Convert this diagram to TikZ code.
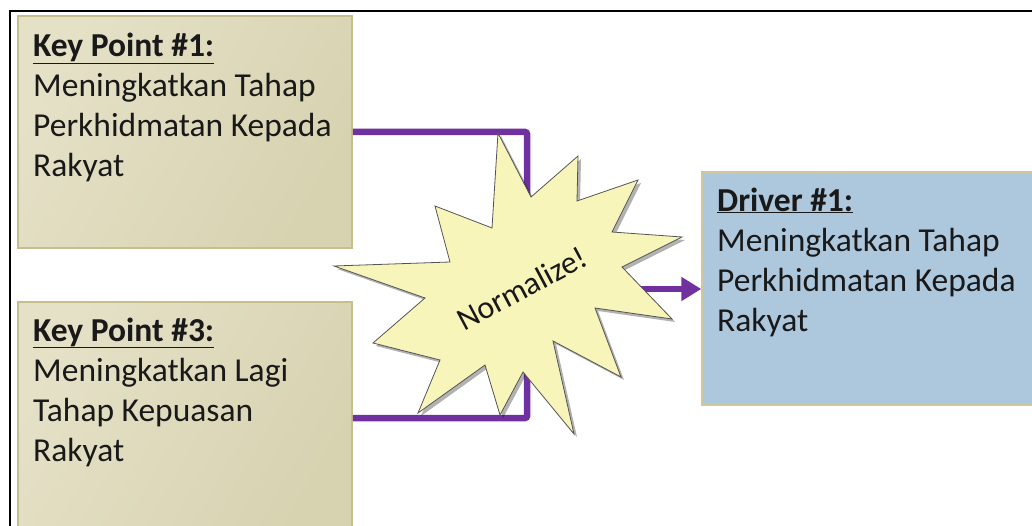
\documentclass[tikz,border=0pt]{standalone}
\usepackage{fontspec}
\setmainfont{Carlito}
\usetikzlibrary{arrows.meta,shadows}
\definecolor{tanlight}{HTML}{E5E1C7}
\definecolor{tandark}{HTML}{D7D2B0}
\definecolor{tanedge}{HTML}{C6BE8E}
\definecolor{drvfill}{HTML}{ADC7DD}
\definecolor{purp}{HTML}{7030A0}
\definecolor{starfill}{HTML}{F7F5BA}
\definecolor{staredge}{HTML}{555555}
\begin{document}
\begin{tikzpicture}[x=1pt,y=-1pt,
  keybox/.style={draw=tanedge, line width=1.5pt, left color=tanlight, right color=tandark,
    shading angle=60, minimum width=334pt, minimum height=232pt, inner sep=0pt},
  drvbox/.style={draw=tanedge!85!white, line width=1.5pt, fill=drvfill,
    minimum width=340pt, minimum height=233pt, inner sep=0pt},
  txt/.style={font=\fontsize{33.5}{40}\selectfont, align=left, inner sep=0pt, text=black!90},
  conn/.style={draw=purp, line width=6.5pt, rounded corners=2pt},
  burst/.style={fill=starfill, draw=staredge, line width=0.8pt,
    drop shadow={shadow xshift=3pt, shadow yshift=-3pt, opacity=0.3, fill=black}}]
\useasboundingbox (0,0) rectangle (1032,526);
\clip (0,0) rectangle (1032,526);
\fill[white] (0,0) rectangle (1032,526);
% outer frame
\draw[line width=2.5pt, black] (10,11) rectangle (1200,700);

% boxes
\node[keybox] (kp1) at (185,132) {};
\node[keybox] (kp3) at (185,418) {};
\node[drvbox] (drv) at (872,288.5) {};

% box texts, anchored at the baseline of their last line
\node[txt, anchor=base west] (kp1t) at (33,177)
  {\underline{\textbf{Key Point \#1:}}\\Meningkatkan Tahap\\Perkhidmatan Kepada\\Rakyat};
\node[txt, anchor=base west] (kp3t) at (33,461)
  {\underline{\textbf{Key Point \#3:}}\\Meningkatkan Lagi\\Tahap Kepuasan\\Rakyat};
\node[txt, anchor=base west] (drvt) at (717,331)
  {\underline{\textbf{Driver \#1:}}\\Meningkatkan Tahap\\Perkhidmatan Kepada\\Rakyat};

% connectors
\coordinate (hub) at (527,289);
\draw[conn] (kp1.east) -| (hub);
\draw[conn] (kp3.east) -| (hub);
\draw[conn, -{Triangle[length=20pt,width=23pt]}] (hub) -- (hub -| drv.west);

% explosion
\draw[burst] (498,133) -- (531,197) -- (578,156) -- (577,201) -- (638,180) -- (612,232)
  -- (682,237) -- (622,267) -- (672,319) -- (595,308) -- (621,377) -- (553,341)
  -- (574,434) -- (523,372) -- (500,415) -- (485,365) -- (418,413) -- (440,360)
  -- (373,343) -- (425,298) -- (334,266) -- (450,262) -- (435,206) -- (492,228) -- cycle;
\node[font=\fontsize{32}{38}\selectfont, inner sep=0pt, text=black!90, rotate=28] (norm) at (522,288) {Normalize!};
\end{tikzpicture}
\end{document}
